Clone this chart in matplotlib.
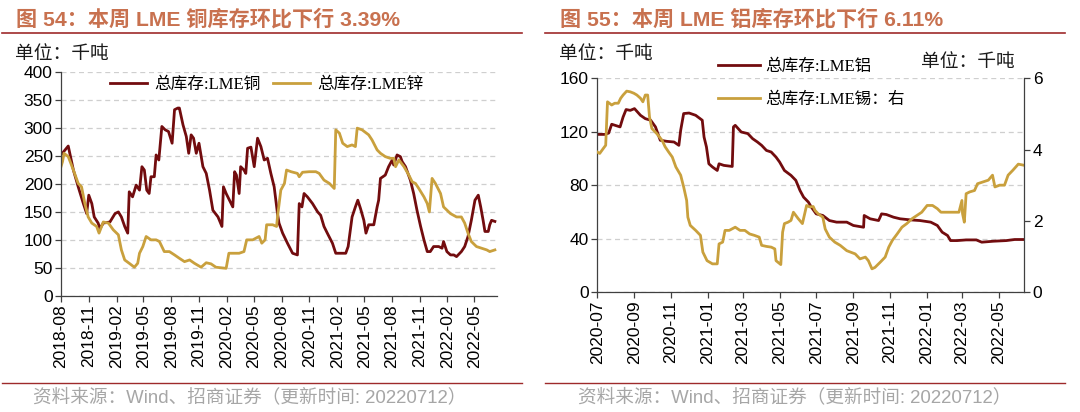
import pandas as pd
import matplotlib
matplotlib.use('Agg')
import matplotlib.pyplot as plt
import matplotlib.dates as mdates
from matplotlib.lines import Line2D
from matplotlib.font_manager import FontProperties

plt.rcParams['font.family'] = ['Liberation Sans', 'Noto Sans CJK SC']
plt.rcParams['axes.unicode_minus'] = False

# ---- 图54 data: LME copper / zinc total stocks (kt) ----
cu_dates = ['2018-08-01', '2018-08-25', '2018-09-11', '2018-09-27', '2018-10-14', '2018-10-25',
            '2018-11-01', '2018-11-11', '2018-11-19', '2018-12-02', '2018-12-08', '2018-12-19',
            '2019-01-10', '2019-01-27', '2019-02-07', '2019-02-17', '2019-02-28', '2019-03-10',
            '2019-03-15', '2019-03-26', '2019-04-07', '2019-04-18', '2019-04-26', '2019-05-04',
            '2019-05-12', '2019-05-20', '2019-05-26', '2019-06-06', '2019-06-12', '2019-06-21',
            '2019-07-01', '2019-07-12', '2019-07-23', '2019-08-04', '2019-08-12', '2019-08-23',
            '2019-08-28', '2019-09-09', '2019-09-20', '2019-09-28', '2019-10-06', '2019-10-14',
            '2019-10-23', '2019-11-01', '2019-11-14', '2019-11-25', '2019-12-06', '2019-12-17',
            '2020-01-03', '2020-01-16', '2020-01-21', '2020-01-30', '2020-02-10', '2020-02-21',
            '2020-02-27', '2020-03-04', '2020-03-13', '2020-03-18', '2020-03-29', '2020-04-04',
            '2020-04-10', '2020-04-21', '2020-05-02', '2020-05-13', '2020-05-24', '2020-06-04',
            '2020-06-15', '2020-06-26', '2020-07-07', '2020-07-18', '2020-07-23', '2020-08-04',
            '2020-08-20', '2020-09-06', '2020-09-22', '2020-09-28', '2020-10-07', '2020-10-14',
            '2020-10-25', '2020-11-11', '2020-11-28', '2020-12-08', '2020-12-19', '2020-12-30',
            '2021-01-16', '2021-01-27', '2021-03-01', '2021-03-09', '2021-03-22', '2021-04-02',
            '2021-04-10', '2021-04-19', '2021-04-30', '2021-05-07', '2021-05-16', '2021-06-02',
            '2021-06-13', '2021-06-18', '2021-06-24', '2021-07-10', '2021-07-21', '2021-08-02',
            '2021-08-07', '2021-08-18', '2021-08-29', '2021-09-04', '2021-09-15', '2021-10-01',
            '2021-10-12', '2021-10-23', '2021-11-04', '2021-11-15', '2021-11-26', '2021-12-06',
            '2021-12-17', '2022-01-03', '2022-01-14', '2022-01-19', '2022-01-30', '2022-02-11',
            '2022-02-22', '2022-03-03', '2022-03-19', '2022-03-30', '2022-04-10', '2022-04-21',
            '2022-05-03', '2022-05-14', '2022-05-22', '2022-05-30', '2022-06-05', '2022-06-16',
            '2022-06-21', '2022-06-27', '2022-07-08']
cu_vals = [252, 268, 225, 195, 165, 147,
           180, 165, 141, 130, 120, 130,
           132, 147, 150, 141, 124, 112,
           186, 177, 198, 189, 231, 225,
           189, 183, 213, 213, 252, 243,
           303, 297, 294, 273, 333, 336,
           336, 306, 285, 255, 288, 282,
           255, 273, 231, 219, 189, 153,
           141, 124, 195, 183, 171, 159,
           222, 216, 183, 231, 225, 219,
           264, 266, 231, 282, 267, 243,
           246, 219, 195, 147, 130, 112,
           94, 76, 73, 165, 159, 183,
           177, 165, 150, 144, 124, 112,
           94, 76, 76, 88, 141, 159,
           171, 156, 135, 112, 127, 127,
           159, 171, 210, 216, 231, 243,
           234, 252, 249, 240, 231, 207,
           183, 153, 124, 100, 79, 79,
           88, 88, 85, 97, 79, 73,
           73, 70, 79, 88, 106, 135,
           171, 180, 159, 135, 115, 115,
           127, 135, 133]

zn_dates = ['2018-08-01', '2018-08-06', '2018-08-11', '2018-08-25', '2018-09-11', '2018-09-27',
            '2018-10-08', '2018-10-19', '2018-10-30', '2018-11-11', '2018-11-27', '2018-12-05',
            '2018-12-19', '2019-01-05', '2019-01-21', '2019-02-07', '2019-02-17', '2019-02-28',
            '2019-03-15', '2019-04-01', '2019-04-12', '2019-04-18', '2019-04-29', '2019-05-10',
            '2019-05-26', '2019-06-12', '2019-06-23', '2019-07-09', '2019-07-26', '2019-08-12',
            '2019-08-28', '2019-09-14', '2019-10-01', '2019-10-17', '2019-11-08', '2019-11-25',
            '2019-12-11', '2019-12-27', '2020-01-30', '2020-02-08', '2020-02-21', '2020-03-13',
            '2020-03-29', '2020-04-07', '2020-04-27', '2020-05-18', '2020-05-27', '2020-06-07',
            '2020-06-12', '2020-07-02', '2020-07-15', '2020-07-18', '2020-07-29', '2020-08-10',
            '2020-08-17', '2020-09-01', '2020-09-22', '2020-09-28', '2020-10-09', '2020-10-31',
            '2020-11-22', '2020-12-03', '2020-12-19', '2021-01-06', '2021-01-22', '2021-01-27',
            '2021-02-08', '2021-02-19', '2021-03-06', '2021-03-22', '2021-04-02', '2021-04-08',
            '2021-04-24', '2021-05-16', '2021-05-27', '2021-06-13', '2021-06-24', '2021-07-10',
            '2021-07-26', '2021-08-07', '2021-08-13', '2021-08-24', '2021-09-10', '2021-09-26',
            '2021-10-07', '2021-10-18', '2021-10-29', '2021-11-15', '2021-11-26', '2021-12-03',
            '2021-12-12', '2021-12-23', '2022-01-09', '2022-01-19', '2022-02-11', '2022-03-03',
            '2022-03-19', '2022-03-30', '2022-04-10', '2022-04-21', '2022-05-08', '2022-05-25',
            '2022-06-11', '2022-06-21', '2022-07-08']
zn_vals = [231, 240, 255, 249, 225, 201,
           195, 165, 141, 130, 124, 112,
           132, 130, 118, 109, 82, 64,
           58, 51, 58, 76, 88, 106,
           100, 100, 97, 79, 79, 73,
           67, 61, 64, 58, 51, 59,
           57, 51, 49, 76, 76, 76,
           79, 100, 100, 106, 94, 100,
           127, 127, 124, 141, 189, 201,
           225, 222, 219, 213, 221, 222,
           222, 219, 207, 201, 192, 297,
           291, 273, 267, 270, 267, 300,
           297, 288, 279, 261, 255, 249,
           246, 246, 231, 243, 231, 216,
           204, 201, 192, 177, 165, 150,
           210, 201, 183, 159, 147, 141,
           141, 130, 112, 97, 88, 85,
           82, 79, 82]

# ---- 图55 data: LME aluminium (kt, left) / tin (kt, right) ----
al_dates = ['2020-07-01', '2020-07-14', '2020-07-20', '2020-07-25', '2020-08-08', '2020-08-13',
            '2020-08-18', '2020-08-25', '2020-09-01', '2020-09-11', '2020-09-19', '2020-09-28',
            '2020-10-06', '2020-10-14', '2020-10-25', '2020-11-06', '2020-11-14', '2020-11-17',
            '2020-11-22', '2020-12-01', '2020-12-12', '2020-12-23', '2020-12-26', '2020-12-30',
            '2021-01-03', '2021-01-09', '2021-01-17', '2021-01-20', '2021-01-28', '2021-02-11',
            '2021-02-13', '2021-02-16', '2021-02-26', '2021-03-09', '2021-03-17', '2021-03-25',
            '2021-04-01', '2021-04-09', '2021-04-17', '2021-04-25', '2021-05-01', '2021-05-09',
            '2021-05-20', '2021-05-28', '2021-06-04', '2021-06-10', '2021-06-18', '2021-06-23',
            '2021-07-01', '2021-07-12', '2021-07-23', '2021-08-04', '2021-08-21', '2021-09-01',
            '2021-09-18', '2021-09-19', '2021-09-29', '2021-10-13', '2021-10-18', '2021-10-26',
            '2021-11-07', '2021-11-18', '2021-12-05', '2021-12-21', '2022-01-08', '2022-01-19',
            '2022-01-27', '2022-02-05', '2022-02-10', '2022-02-21', '2022-03-08', '2022-03-25',
            '2022-04-03', '2022-04-22', '2022-05-14', '2022-05-28', '2022-06-12']
al_vals = [118, 118, 119, 125.6, 123.6, 131,
           136.6, 136, 137.3, 132.3, 129.8, 128.6,
           123.6, 113.6, 112.8, 112.3, 109.8, 121,
           133.6, 134, 132.3, 128.6, 116, 108.6,
           96, 93.6, 91, 96, 94.8, 94,
           123.6, 124.8, 119.8, 118.6, 114.8, 112.3,
           109.8, 106, 104.8, 101, 97.3, 91,
           87.3, 83.6, 76, 71, 67.3, 63.5,
           58.5, 57.3, 53.5, 52.3, 52.3, 49.8,
           48.5, 57.3, 54.8, 53.5, 58.5, 58,
           56, 54.8, 54, 53.5, 52.3, 49.8,
           44.8, 42.3, 38.5, 38.5, 39, 39,
           37.3, 38, 38.5, 39.3, 39.3]

sn_dates = ['2020-07-01', '2020-07-05', '2020-07-11', '2020-07-15', '2020-07-18', '2020-07-25',
            '2020-07-30', '2020-08-05', '2020-08-09', '2020-08-13', '2020-08-19', '2020-08-25',
            '2020-08-31', '2020-09-05', '2020-09-11', '2020-09-15', '2020-09-19', '2020-09-23',
            '2020-09-26', '2020-09-30', '2020-10-08', '2020-10-17', '2020-10-22', '2020-10-28',
            '2020-11-03', '2020-11-09', '2020-11-17', '2020-11-22', '2020-11-27', '2020-11-29',
            '2020-12-03', '2020-12-12', '2020-12-20', '2020-12-24', '2020-12-31', '2021-01-09',
            '2021-01-17', '2021-01-20', '2021-01-26', '2021-01-30', '2021-02-06', '2021-02-16',
            '2021-02-24', '2021-03-04', '2021-03-12', '2021-03-20', '2021-03-28', '2021-04-01',
            '2021-04-09', '2021-04-17', '2021-04-23', '2021-04-25', '2021-05-03', '2021-05-06',
            '2021-05-09', '2021-05-15', '2021-05-20', '2021-05-24', '2021-06-01', '2021-06-08',
            '2021-06-15', '2021-06-20', '2021-06-26', '2021-06-29', '2021-07-04', '2021-07-12',
            '2021-07-16', '2021-07-23', '2021-08-01', '2021-08-10', '2021-08-21', '2021-09-04',
            '2021-09-12', '2021-09-21', '2021-09-26', '2021-10-02', '2021-10-07', '2021-10-16',
            '2021-10-24', '2021-10-30', '2021-11-05', '2021-11-13', '2021-11-21', '2021-11-29',
            '2021-12-08', '2021-12-16', '2021-12-24', '2022-01-02', '2022-01-11', '2022-01-19',
            '2022-01-25', '2022-02-05', '2022-02-16', '2022-02-24', '2022-03-01', '2022-03-02',
            '2022-03-05', '2022-03-08', '2022-03-14', '2022-03-22', '2022-03-27', '2022-04-05',
            '2022-04-14', '2022-04-21', '2022-04-25', '2022-05-03', '2022-05-11', '2022-05-17',
            '2022-05-25', '2022-06-03', '2022-06-12']
sn_vals = [3.93, 3.89, 4.03, 4.12, 5.34, 5.25,
           5.30, 5.30, 5.44, 5.53, 5.64, 5.62,
           5.58, 5.53, 5.44, 5.34, 5.53, 5.53,
           4.92, 4.59, 4.45, 4.26, 4.08, 3.93,
           3.79, 3.51, 3.28, 2.95, 2.57, 2.10,
           1.87, 1.73, 1.59, 1.12, 0.88, 0.79,
           0.79, 1.35, 1.40, 1.73, 1.73, 1.82,
           1.73, 1.73, 1.63, 1.59, 1.54, 1.31,
           1.28, 1.26, 1.21, 0.88, 0.77, 1.68,
           1.92, 1.96, 2.01, 2.24, 2.06, 1.92,
           2.43, 2.39, 2.40, 2.29, 2.20, 2.10,
           1.77, 1.54, 1.40, 1.31, 1.16, 1.07,
           0.93, 0.98, 0.88, 0.65, 0.69, 0.84,
           0.98, 1.26, 1.45, 1.63, 1.82, 1.92,
           2.06, 2.15, 2.24, 2.43, 2.43, 2.34,
           2.24, 2.24, 2.24, 2.24, 2.57, 2.20,
           1.96, 2.76, 2.81, 2.85, 3.04, 3.09,
           3.14, 3.28, 2.95, 3.00, 3.00, 3.28,
           3.42, 3.59, 3.56]

MAROON = '#720C0E'
GOLD = '#C9A03D'
TITLE_C = '#C8714F'
RULE_C = '#9E2A2B'
GREY = '#A6A6A6'
AXC = '#404040'

W, H = 1080, 412
fig = plt.figure(figsize=(W / 100, H / 100), dpi=100)


def fx(px):
    return px / W


def fy(py):
    return 1 - py / H


def style(ax, sides):
    for s in ['top', 'right', 'left', 'bottom']:
        ax.spines[s].set_visible(s in sides)
        ax.spines[s].set_color(AXC)
        ax.spines[s].set_linewidth(0.9)
    ax.tick_params(direction='out', length=4, width=0.9, labelsize=12.5,
                   color=AXC, pad=2)


leg_font = FontProperties(family=['Liberation Serif', 'Noto Sans CJK SC'], size=12)

# ---------- left chart ----------
ax1 = fig.add_axes([fx(61), fy(295.7), fx(496.7) - fx(61), fy(72.3) - fy(295.7)])
style(ax1, ['left', 'bottom'])
ax1.plot(pd.to_datetime(cu_dates), cu_vals, color=MAROON, lw=2.0, label='总库存:LME铜')
ax1.plot(pd.to_datetime(zn_dates), zn_vals, color=GOLD, lw=2.0, label='总库存:LME锌')
ax1.set_ylim(0, 400)
ax1.set_yticks(range(0, 401, 50))
ax1.set_xlim(pd.Timestamp('2018-08-01'), pd.Timestamp('2022-07-14'))
ax1.set_xticks(pd.date_range('2018-08-01', '2022-05-01', freq='3MS'))
ax1.xaxis.set_major_formatter(mdates.DateFormatter('%Y-%m'))
plt.setp(ax1.get_xticklabels(), rotation=90)
ax1.yaxis.grid(True, color='#CFCFCF', ls=(0, (4, 3)), lw=0.9)
ax1.set_axisbelow(True)
ax1.legend(loc='upper left', bbox_to_anchor=(fx(110), fy(77)), bbox_transform=fig.transFigure,
           ncol=2, frameon=False, borderpad=0, borderaxespad=0, handlelength=2.2,
           handletextpad=0.45, columnspacing=0.75, prop=leg_font)

# ---------- right chart ----------
ax3 = fig.add_axes([fx(597.3), fy(292), fx(1024.3) - fx(597.3), fy(78.3) - fy(292)])
ax4 = ax3.twinx()
style(ax3, ['left', 'bottom'])
style(ax4, ['right'])
l1, = ax3.plot(pd.to_datetime(al_dates), al_vals, color=MAROON, lw=2.0, label='总库存:LME铝')
l2, = ax4.plot(pd.to_datetime(sn_dates), sn_vals, color=GOLD, lw=2.0, label='总库存:LME锡：右')
ax3.set_ylim(0, 160)
ax3.set_yticks([0, 40, 80, 120, 160])
ax4.set_ylim(0, 6)
ax4.set_yticks([0, 2, 4, 6])
ax3.set_xlim(pd.Timestamp('2020-07-01'), pd.Timestamp('2022-06-13'))
ax3.set_xticks(pd.date_range('2020-07-01', '2022-05-01', freq='2MS'))
ax3.xaxis.set_major_formatter(mdates.DateFormatter('%Y-%m'))
plt.setp(ax3.get_xticklabels(), rotation=90)
ax3.yaxis.grid(True, color='#CFCFCF', ls=(0, (4, 3)), lw=0.9)
ax3.set_axisbelow(True)
ax3.legend(handles=[l1, l2], loc='upper left', bbox_to_anchor=(fx(718), fy(59)),
           bbox_transform=fig.transFigure, frameon=False, borderpad=0, borderaxespad=0,
           handlelength=2.5, handletextpad=0.35, labelspacing=1.0, prop=leg_font)

# ---------- titles, rules, notes ----------
fig.text(fx(15.5), fy(19), '图 54：本周 LME 铜库存环比下行 3.39%', color=TITLE_C,
         fontsize=15.2, fontweight='bold', va='center', ha='left')
fig.text(fx(560.5), fy(19), '图 55：本周 LME 铝库存环比下行 6.11%', color=TITLE_C,
         fontsize=15.2, fontweight='bold', va='center', ha='left')
for x0, x1 in [(2, 522), (545, 1065)]:
    fig.add_artist(Line2D([fx(x0), fx(x1)], [fy(33.4)] * 2, color=RULE_C, lw=1.2))
    fig.add_artist(Line2D([fx(x0), fx(x1)], [fy(383.3)] * 2, color=RULE_C, lw=1.0))

fig.text(fx(15.5), fy(55), '单位：千吨', fontsize=13.5, va='center', ha='left', color='#1A1A1A')
fig.text(fx(559), fy(55), '单位：千吨', fontsize=13.5, va='center', ha='left', color='#1A1A1A')
fig.text(fx(1015), fy(62), '单位：千吨', fontsize=13.5, va='center', ha='right', color='#1A1A1A')

src = '资料来源：Wind、招商证券（更新时间: 20220712）'
fig.text(fx(32.7), fy(397), src, fontsize=13.4, color=GREY, va='center', ha='left')
fig.text(fx(578), fy(397), src, fontsize=13.4, color=GREY, va='center', ha='left')

fig.savefig('out.png', dpi=100)
